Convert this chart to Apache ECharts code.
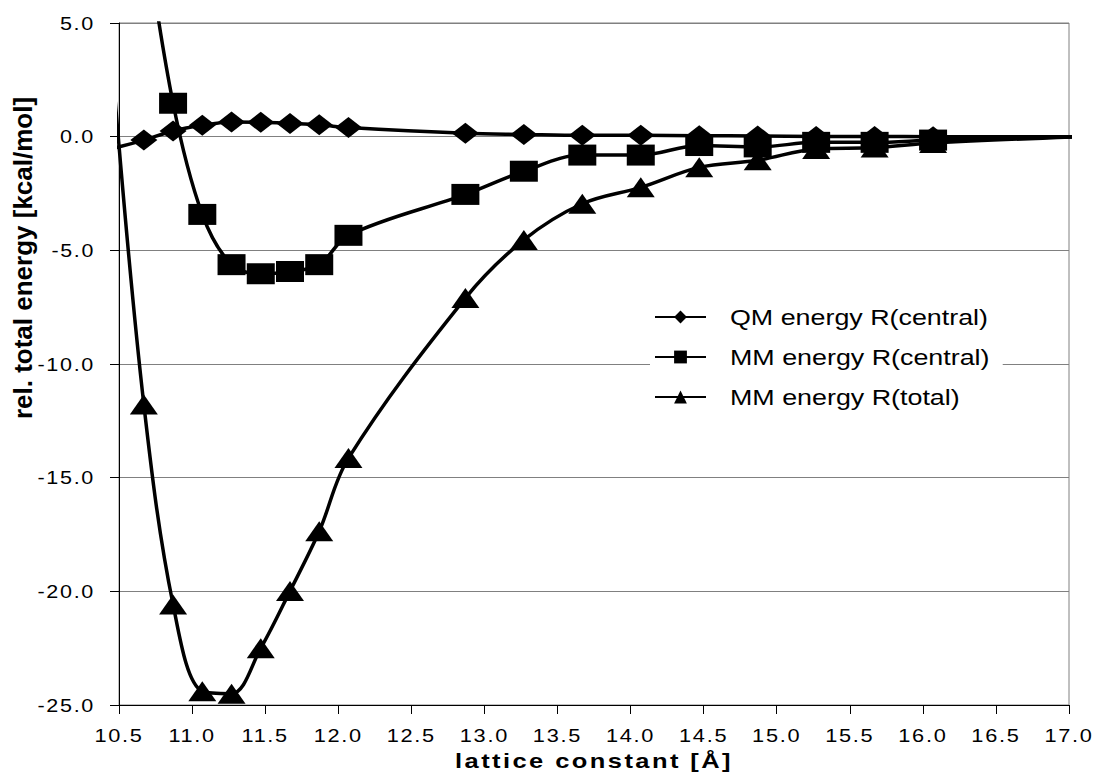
<!DOCTYPE html>
<html>
<head>
<meta charset="utf-8">
<title>Lattice constant scan</title>
<script src="https://cdn.jsdelivr.net/npm/echarts@6/dist/echarts.min.js"></script>
<style>
  html, body { margin: 0; padding: 0; background: #ffffff; }
  #chart { width: 1094px; height: 774px; }
</style>
</head>
<body>
<div id="chart"></div>
<script>
// Lattice constants [Å] of the scan (first and last points lie just outside the shown range)
const latticeConstant = [10.47, 10.67, 10.87, 11.07, 11.27, 11.47, 11.67, 11.87, 12.07,
                         12.87, 13.27, 13.67, 14.07, 14.47, 14.87, 15.27, 15.67, 16.07, 17.07];

// Relative total energies [kcal/mol]
const qmCentral = [-0.5, -0.15, 0.25, 0.5, 0.65, 0.63, 0.58, 0.52, 0.4,
                   0.15, 0.1, 0.06, 0.06, 0.04, 0.03, 0.01, 0.01, 0.0, 0.0];
const mmCentral = [null, 9.5, 1.47, -3.42, -5.63, -6.03, -5.93, -5.63, -4.34,
                   -2.54, -1.52, -0.81, -0.81, -0.39, -0.45, -0.25, -0.25, -0.15, 0.0];
const mmTotal   = [1.9, -11.78, -20.58, -24.4, -24.5, -22.5, -19.99, -17.36, -14.14,
                   -7.1, -4.54, -2.95, -2.23, -1.35, -1.04, -0.54, -0.48, -0.28, 0.0];

const seriesNames = ['QM energy R(central)', 'MM energy R(central)', 'MM energy R(total)'];
const xRange = [10.5, 17.0];
const yRange = [-25, 5];
const xTitle = 'lattice constant [Å]';
const yTitle = 'rel. total energy [kcal/mol]';

const FONT = '"Liberation Sans", Arial, Helvetica, sans-serif';

// Points outside the axis range keep the curve running but carry no marker
function toPoints(values) {
  const pts = [];
  latticeConstant.forEach((x, i) => {
    const v = values[i];
    if (v === null) return;
    const inside = x >= xRange[0] && x <= xRange[1];
    pts.push(inside ? [x, v] : { value: [x, v], symbol: 'none' });
  });
  return pts;
}

function lineSeries(name, values, symbol, size, clip) {
  return {
    name: name,
    type: 'line',
    data: toPoints(values),
    smooth: 0.35,
    symbol: symbol,
    symbolSize: size,
    showAllSymbol: true,
    clip: clip,
    lineStyle: { color: '#000', width: 3.5 },
    itemStyle: { color: '#000', borderWidth: 0 },
    emphasis: { disabled: true },
    animation: false
  };
}

const chart = echarts.init(document.getElementById('chart'), null, { renderer: 'svg' });

chart.setOption({
  animation: false,
  backgroundColor: '#ffffff',
  grid: {
    left: 119, right: 25, top: 23, bottom: 69,
    show: true, borderColor: '#808080', borderWidth: 1,
    outerBoundsMode: 'none'
  },
  xAxis: {
    type: 'value',
    min: xRange[0], max: xRange[1], interval: 0.5,
    axisLine: { show: true, onZero: false, lineStyle: { color: '#000', width: 1 } },
    axisTick: { show: true, inside: false, length: 9, lineStyle: { color: '#000', width: 1 } },
    axisLabel: {
      formatter: v => v.toFixed(1),
      color: '#000', fontFamily: FONT, fontSize: 19, margin: 21
    },
    splitLine: { show: false },
    name: xTitle,
    nameLocation: 'middle',
    nameGap: 40,
    nameTextStyle: { color: '#000', fontFamily: FONT, fontWeight: 'bold', fontSize: 21 }
  },
  yAxis: {
    type: 'value',
    min: yRange[0], max: yRange[1], interval: 5,
    axisLine: { show: true, onZero: false, lineStyle: { color: '#000', width: 1 } },
    axisTick: { show: true, inside: false, length: 9, lineStyle: { color: '#000', width: 1 } },
    axisLabel: {
      formatter: v => v.toFixed(1),
      color: '#000', fontFamily: FONT, fontSize: 19, margin: 24
    },
    splitLine: { show: true, lineStyle: { color: '#808080', width: 1 } }
  },
  legend: {
    data: seriesNames,
    orient: 'vertical',
    left: 650, top: 289,
    itemWidth: 51, itemHeight: 16, itemGap: 18,
    padding: [17, 60, 17, 4],
    backgroundColor: '#ffffff',
    selectedMode: false,
    textStyle: { color: '#000', fontFamily: FONT, fontSize: 22, padding: [0, 0, 0, 19] }
  },
  graphic: [{
    type: 'text',
    x: 23, y: 258,
    rotation: Math.PI / 2,
    style: {
      text: yTitle,
      font: 'bold 26px ' + FONT,
      fill: '#000',
      align: 'center',
      verticalAlign: 'middle'
    }
  }],
  series: [
    lineSeries(seriesNames[0], qmCentral, 'diamond', [27, 21], false),
    lineSeries(seriesNames[1], mmCentral, 'rect', [28, 21], true),
    lineSeries(seriesNames[2], mmTotal, 'triangle', [28, 20], false)
  ]
});

// Wide, spaced lettering of the labels
function widenText() {
  document.querySelectorAll('#chart svg text').forEach(t => {
    if (t.dataset.wide) return;
    const s = t.textContent;
    let k = 0, spacing = 0;
    if (/^-?\d+\.\d$/.test(s)) { k = 1.33; spacing = 1.5; }
    else if (s === xTitle) { k = 1.47; spacing = 2; }
    else if (seriesNames.indexOf(s) >= 0) { k = 1.22; }
    if (!k) return;
    const w = t.getComputedTextLength();
    if (!w) return;
    if (spacing) t.style.letterSpacing = spacing + 'px';
    t.setAttribute('textLength', (w * k).toFixed(1));
    t.setAttribute('lengthAdjust', 'spacingAndGlyphs');
    t.dataset.wide = '1';
  });
}
widenText();
chart.on('finished', widenText);
setTimeout(widenText, 0);
</script>
</body>
</html>
